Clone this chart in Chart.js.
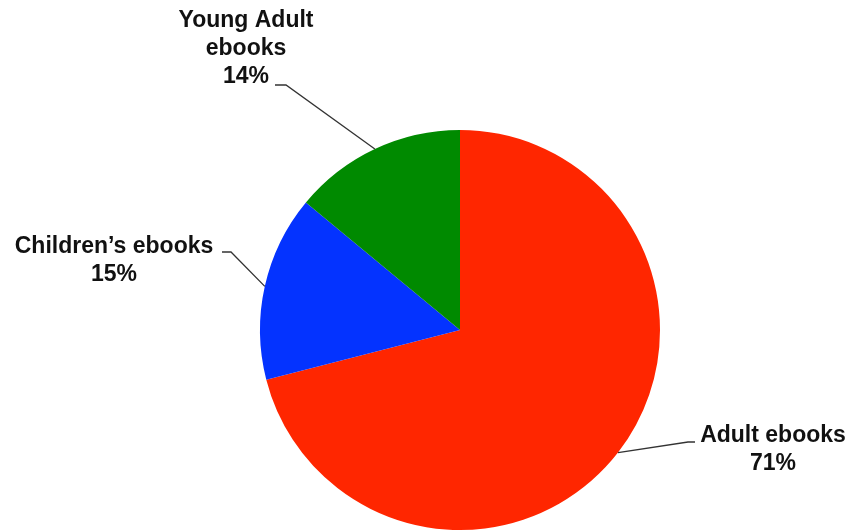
<!DOCTYPE html>
<html>
<head>
<meta charset="utf-8">
<script src="https://cdn.jsdelivr.net/npm/chart.js@4"></script>
<style>
  body { margin: 0; background: #fff; }
  #wrap { width: 849px; height: 531px; position: relative; }
</style>
</head>
<body>
<div id="wrap"><canvas id="myChart"></canvas></div>
<script>
const categories = ['Adult ebooks', 'Children\u2019s ebooks', 'Young Adult ebooks']
const shares = [71, 15, 14]
const sliceColors = ['#ff2600', '#0433ff', '#008a00']

// label text lines per slice
const labelLines = [
    ['Adult ebooks', '71%'],
    ['Children\u2019s ebooks', '15%'],
    ['Young Adult', 'ebooks', '14%']
]

// where each label sits: text centre x, first baseline y, elbow of the leader, end of the stub
const labelLayout = [
    { x: 773, y: 442, elbow: [688, 442], stub: [695, 442] },
    { x: 114, y: 253, elbow: [231, 252], stub: [222, 252] },
    { x: 246, y: 27, elbow: [286, 85], stub: [275, 85] }
]

const leaderLabels = {
    id: 'leaderLabels',
    afterDatasetsDraw(chart) {
        const ctx = chart.ctx
        const arcs = chart.getDatasetMeta(0).data
        ctx.save()
        arcs.forEach((arc, i) => {
            const p = arc.getProps(['x', 'y', 'startAngle', 'endAngle', 'outerRadius'], true)
            const mid = (p.startAngle + p.endAngle) / 2
            const ax = p.x + Math.cos(mid) * p.outerRadius
            const ay = p.y + Math.sin(mid) * p.outerRadius
            const lay = labelLayout[i]

            ctx.strokeStyle = '#333'
            ctx.lineWidth = 1.3
            ctx.beginPath()
            ctx.moveTo(ax, ay)
            ctx.lineTo(lay.elbow[0], lay.elbow[1])
            ctx.lineTo(lay.stub[0], lay.stub[1])
            ctx.stroke()

            ctx.fillStyle = '#111'
            ctx.font = 'bold 23px "Liberation Sans", Arial, sans-serif'
            ctx.textAlign = 'center'
            ctx.textBaseline = 'alphabetic'
            labelLines[i].forEach((line, j) => {
                ctx.fillText(line, lay.x, lay.y + j * 28)
            })
        })
        ctx.restore()
    }
}

new Chart(document.querySelector('#myChart'), {
    type: 'pie',
    data: {
        labels: categories,
        datasets: [{
            data: shares,
            backgroundColor: sliceColors,
            borderWidth: 0
        }]
    },
    options: {
        responsive: true,
        maintainAspectRatio: false,
        animation: false,
        layout: { padding: { top: 130, bottom: 1, left: 71, right: 0 } },
        plugins: {
            legend: { display: false },
            tooltip: { enabled: false }
        }
    },
    plugins: [leaderLabels]
})
</script>
</body>
</html>
